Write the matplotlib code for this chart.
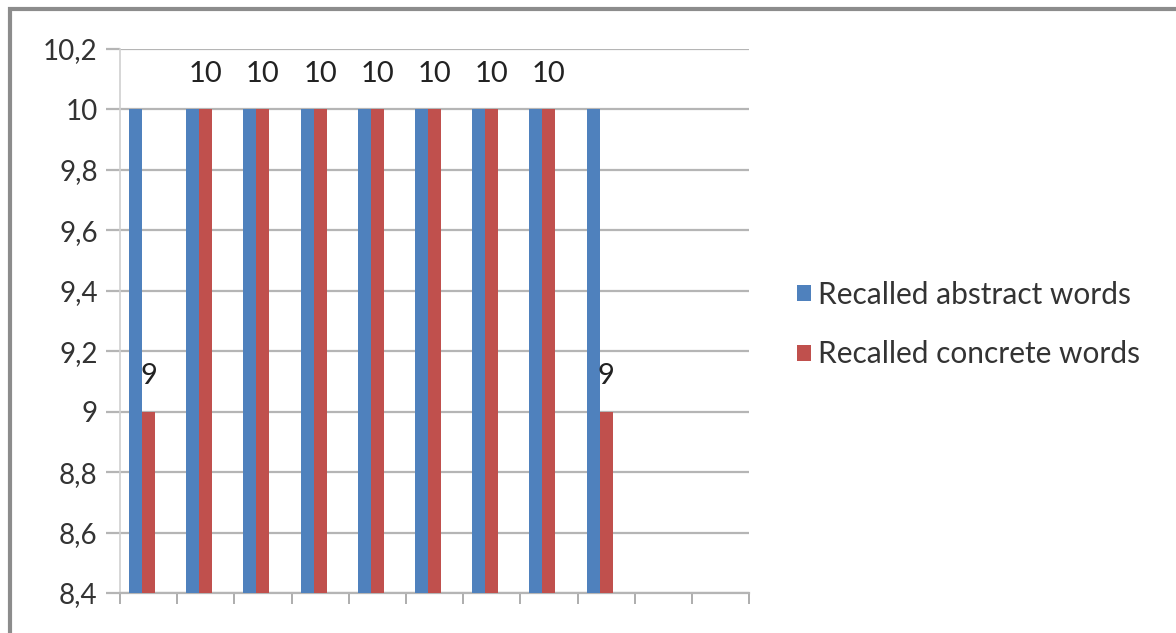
import numpy as np
import matplotlib.pyplot as plt
from matplotlib.patches import Rectangle

# data
categories = list(range(1, 12))
abstract = [10, 10, 10, 10, 10, 10, 10, 10, 10, None, None]
concrete = [9, 10, 10, 10, 10, 10, 10, 10, 9, None, None]
y_ticks = [8.4, 8.6, 8.8, 9.0, 9.2, 9.4, 9.6, 9.8, 10.0, 10.2]

BLUE = '#4F81BD'
RED = '#C0504D'
GRID = '#b5b5b5'

plt.rcParams['font.family'] = ['Lato', 'DejaVu Sans']

fig = plt.figure(figsize=(11.76, 6.33), dpi=100)
ax = fig.add_axes([0.102, 0.0632, 0.535, 0.8594])

x = np.arange(len(categories))
w = 0.227
ab = [v if v is not None else np.nan for v in abstract]
co = [v if v is not None else np.nan for v in concrete]

ax.bar(x - w, ab, width=w, color=BLUE, label='Recalled abstract words', zorder=3)
ax.bar(x, co, width=w, color=RED, label='Recalled concrete words', zorder=3)

for xi, v in zip(x, concrete):
    if v is None:
        continue
    ax.text(xi, v + 0.075, f'{v:g}', ha='center', va='bottom', fontsize=21,
            color='#222222', zorder=4)

ax.set_ylim(8.4, 10.2)
ax.set_xlim(-0.5, len(categories) - 0.5)
ax.set_yticks(y_ticks)
ax.set_yticklabels([f'{t:g}'.replace('.', ',') for t in y_ticks], fontsize=20, color='#333333')
ax.yaxis.grid(True, color=GRID, linewidth=1.6, zorder=0)
ax.tick_params(axis='y', length=10, width=1.6, color=GRID, pad=6)

ax.set_xticks(np.arange(len(categories) + 1) - 0.5)
ax.set_xticklabels([])
ax.tick_params(axis='x', length=8, width=1.2, color='#a0a0a0', direction='out')

for s in ['top', 'right']:
    ax.spines[s].set_visible(False)
ax.spines['left'].set_color('#d0d0d0')
ax.spines['left'].set_linewidth(1.2)
ax.spines['bottom'].set_color(GRID)
ax.spines['bottom'].set_linewidth(1.6)

leg = fig.legend(loc='center left', bbox_to_anchor=(0.655, 0.487), frameon=False,
                 fontsize=21.5, handlelength=0.45, handleheight=0.45,
                 handletextpad=0.25, labelspacing=1.05, labelcolor='#333333')

# outer chart frame
fig.patches.append(Rectangle((10 / 1176, -0.1), 1.2, 1 - 9 / 633 + 0.1,
                             transform=fig.transFigure, fill=False,
                             edgecolor='#8c8c8c', linewidth=3, zorder=0))

fig.savefig('out.png', dpi=100)
